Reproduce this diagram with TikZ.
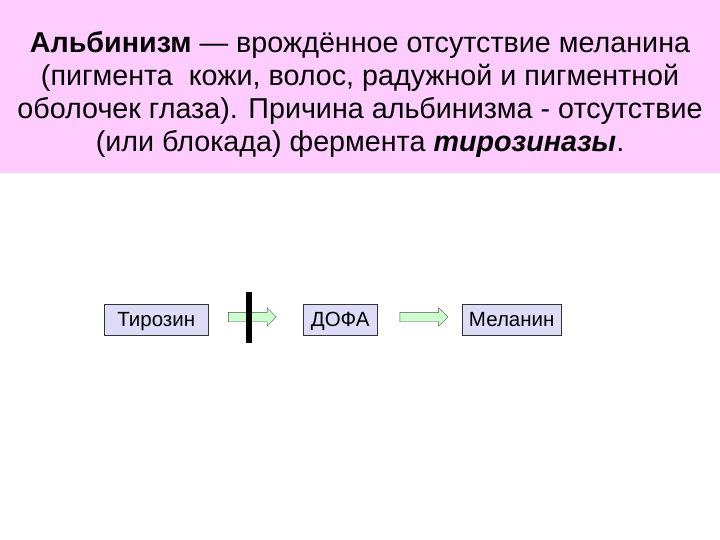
\documentclass[tikz,border=0pt]{standalone}
\usepackage{fontspec}
\setmainfont{Liberation Sans}
\usetikzlibrary{positioning, shapes.arrows}

\definecolor{bannerpink}{RGB}{255,204,255}
\definecolor{boxlav}{RGB}{221,221,248}
\definecolor{arrgreen}{RGB}{204,255,204}

\begin{document}
\begin{tikzpicture}[
    x=1pt, y=-1pt,
    box/.style={draw=black!80, fill=boxlav, minimum height=31pt, inner xsep=3pt, inner ysep=0pt,
                text height=14.8pt, text depth=0pt,
                font=\fontsize{20.5}{24}\selectfont, anchor=west},
    blockarr/.style={single arrow, draw=black!70, fill=arrgreen, inner xsep=0pt, inner ysep=4.5pt,
                minimum height=48pt, minimum width=18pt, single arrow head extend=4.5pt},
    bar/.style={fill=black, inner sep=0pt, minimum width=6pt, minimum height=51pt}
]
\useasboundingbox (0,0) rectangle (720,540);
\fill[bannerpink] (0,0) rectangle (720,173);
\node[align=center, font=\fontsize{28.7}{33}\selectfont] (title) at (360,94)
    {\textbf{Альбинизм} — врождённое отсутствие меланина\\
     (пигмента\ \ кожи, волос, радужной и пигментной\\
     оболочек глаза). Причина альбинизма - отсутствие\\
     (или блокада) фермента \textbf{\textit{тирозиназы}}.};

% chain
\node[box, minimum width=104pt] (tyr) at (104,319.5) {Тирозин};
\node[box, minimum width=74pt] (dopa) at (303,319.5) {ДОФА};
\node[box, minimum width=99pt] (mel) at (462,319.5) {Меланин};

\node[blockarr] (a1) at (250,317) {};
\node[blockarr] (a2) at (421.5,317) {};
\node[bar] (block) at (248.5,317.5) {};
\end{tikzpicture}
\end{document}
